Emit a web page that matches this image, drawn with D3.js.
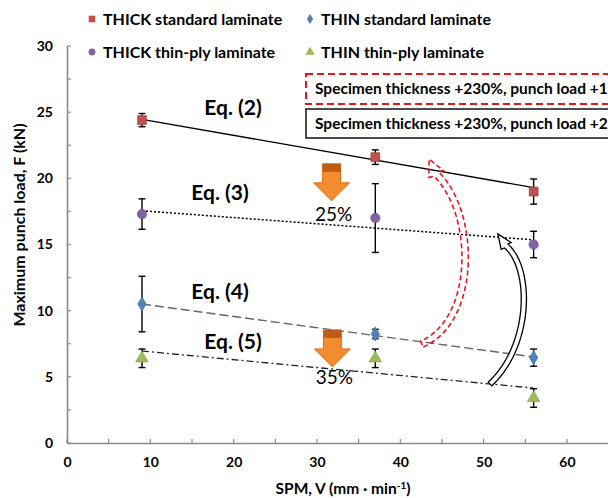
<!DOCTYPE html>
<html>
<head>
<meta charset="utf-8">
<script src="https://cdn.jsdelivr.net/npm/d3@7"></script>
<style>
  body { margin: 0; background: #fff; }
  text { font-family: Lato, "Noto Sans", sans-serif; font-weight: bold; fill: #000; }
</style>
</head>
<body>
<svg id="chart" width="608" height="498"></svg>
<script>
// punch speed (mm/min)
const speeds = [9, 37, 56];

// mean punch loads (kN) and error half-widths
const thickStd = [24.4, 21.6, 19.0];
const thickStdErr = [0.5, 0.55, 0.95];
const thickThin = [17.3, 17.0, 15.0];
const thickThinErr = [1.15, 2.6, 1.0];
const thinStd = [10.5, 8.24, 6.45];
const thinStdErr = [2.1, 0.35, 0.65];
const thinThin = [6.4, 6.4, 3.4];
const thinThinErr = [0.7, 0.7, 0.7];

// fitted lines, value at first and last speed
const trendX = [9, 56];
const eq2 = [24.45, 19.3];
const eq3 = [17.55, 15.35];
const eq4 = [10.5, 6.5];
const eq5 = [6.95, 4.15];

const xTicks = [0, 10, 20, 30, 40, 50, 60];
const yTicks = [0, 5, 10, 15, 20, 25, 30];

const svg = d3.select('#chart');

let x = d3.scaleLinear().domain([0, 70]).range([67, 650.3]);
let y = d3.scaleLinear().domain([0, 30]).range([443, 46]);

// axes
let gx = svg.append('g').attr('transform', `translate(0,${y(0)})`)
  .call(d3.axisBottom(x).tickValues(xTicks).tickSize(0).tickPadding(14));
let gy = svg.append('g').attr('transform', `translate(${x(0)},0)`)
  .call(d3.axisLeft(y).tickValues(yTicks).tickSize(0).tickPadding(14));
[gx, gy].forEach(g => {
  g.select('.domain').attr('stroke', '#8a8a8a').attr('stroke-width', 1.6);
  g.selectAll('text').style('font-size', '14px').style('font-family', 'Lato, sans-serif').style('font-weight', 'bold').attr('fill', '#000');
});

// small inward ticks
svg.append('g').selectAll('line').data(d3.range(0, 71, 5)).join('line')
  .attr('x1', d => x(d)).attr('x2', d => x(d))
  .attr('y1', y(0)).attr('y2', y(0) - 4)
  .attr('stroke', '#8a8a8a').attr('stroke-width', 1.2);
svg.append('g').selectAll('line').data(d3.range(0, 30.1, 2.5)).join('line')
  .attr('x1', x(0)).attr('x2', x(0) + 4)
  .attr('y1', d => y(d)).attr('y2', d => y(d))
  .attr('stroke', '#8a8a8a').attr('stroke-width', 1.2);

// axis titles
svg.append('text').attr('x', 343).attr('y', 494).attr('text-anchor', 'middle')
  .style('font-size', '15.5px')
  .html('SPM, V (mm \u00B7 min<tspan dy="-5" style="font-size:10px">-1</tspan><tspan dy="5">)</tspan>');
svg.append('text').attr('transform', 'translate(25,225) rotate(-90)').attr('text-anchor', 'middle')
  .style('font-size', '16px').text('Maximum punch load, F (kN)');

// trend lines
const trends = [
  { v: eq2, dash: null, color: '#000', w: 1.3 },
  { v: eq3, dash: '2,2', color: '#000', w: 1.5 },
  { v: eq4, dash: '9,4', color: '#666', w: 1.4 },
  { v: eq5, dash: '7,3,2,3', color: '#222', w: 1.3 }
];
let line = d3.line().x((d, i) => x(trendX[i])).y(d => y(d));
trends.forEach(t => {
  svg.append('path').attr('d', line(t.v)).attr('fill', 'none')
    .attr('stroke', t.color).attr('stroke-width', t.w)
    .attr('stroke-dasharray', t.dash);
});

// error bars
const series = [
  { v: thickStd, e: thickStdErr, shape: d3.symbolSquare, size: 80, fill: '#c0504d', stroke: '#9e3330' },
  { v: thickThin, e: thickThinErr, shape: d3.symbolCircle, size: 70, fill: '#8064a2', stroke: '#6a4f8c' },
  { v: thinStd, e: thinStdErr, shape: d3.symbolDiamond, size: 60, fill: '#4f81bd', stroke: '#3c6ca8' },
  { v: thinThin, e: thinThinErr, shape: d3.symbolTriangle, size: 70, fill: '#9bbb59', stroke: '#86a644' }
];
series.forEach(s => {
  let g = svg.append('g').attr('stroke', '#000').attr('stroke-width', 1.4);
  s.v.forEach((v, i) => {
    let cx = x(speeds[i]);
    let y1 = y(v + s.e[i]), y2 = y(v - s.e[i]);
    g.append('line').attr('x1', cx).attr('x2', cx).attr('y1', y1).attr('y2', y2);
    g.append('line').attr('x1', cx - 3.5).attr('x2', cx + 3.5).attr('y1', y1).attr('y2', y1);
    g.append('line').attr('x1', cx - 3.5).attr('x2', cx + 3.5).attr('y1', y2).attr('y2', y2);
  });
});
series.forEach(s => {
  svg.append('g').selectAll('path').data(s.v).join('path')
    .attr('transform', (d, i) => `translate(${x(speeds[i])},${y(d)})`)
    .attr('d', d3.symbol().type(s.shape).size(s.size))
    .attr('fill', s.fill).attr('stroke', s.stroke).attr('stroke-width', 0.6);
});

// legend
const legendItems = [
  { label: 'THICK standard laminate', s: series[0], lx: 92, ly: 19 },
  { label: 'THIN standard laminate', s: series[2], lx: 310, ly: 19 },
  { label: 'THICK thin-ply laminate', s: series[1], lx: 92, ly: 52 },
  { label: 'THIN thin-ply laminate', s: series[3], lx: 310, ly: 52 }
];
legendItems.forEach(l => {
  svg.append('path').attr('transform', `translate(${l.lx},${l.ly})`)
    .attr('d', d3.symbol().type(l.s.shape).size(l.s.size * 0.55))
    .attr('fill', l.s.fill);
  svg.append('text').attr('x', l.lx + 11).attr('y', l.ly).attr('dy', '0.35em')
    .style('font-size', '16px').text(l.label);
});

// equation labels
const eqLabels = [
  { t: 'Eq. (2)', px: 233, py: 115 },
  { t: 'Eq. (3)', px: 220, py: 200 },
  { t: 'Eq. (4)', px: 220, py: 299 },
  { t: 'Eq. (5)', px: 233, py: 349 }
];
eqLabels.forEach(e => {
  svg.append('text').attr('x', e.px).attr('y', e.py).attr('text-anchor', 'middle')
    .style('font-size', '21px').text(e.t);
});

// boxed notes (run off the right edge)
svg.append('rect').attr('x', 306).attr('y', 74).attr('width', 340).attr('height', 30)
  .attr('fill', '#fff').attr('stroke', '#e8141c').attr('stroke-width', 2).attr('stroke-dasharray', '7,4');
svg.append('text').attr('x', 315).attr('y', 94).style('font-size', '15.5px')
  .text('Specimen thickness +230%, punch load +1');
svg.append('rect').attr('x', 306).attr('y', 109).attr('width', 340).attr('height', 29)
  .attr('fill', '#fff').attr('stroke', '#000').attr('stroke-width', 1.4);
svg.append('text').attr('x', 315).attr('y', 129).style('font-size', '15.5px')
  .text('Specimen thickness +230%, punch load +2');

// orange down arrows with percentage
const drops = [
  { sx: 31.75, sy: 18.3, label: '25%', ly: 221 },
  { sx: 31.85, sy: 5.75, label: '35%', ly: 384 }
];
drops.forEach(d => {
  let tx = x(d.sx), ty = y(d.sy);
  let pts = [[tx - 9, ty - 37], [tx + 9, ty - 37], [tx + 9, ty - 18], [tx + 18, ty - 18],
             [tx, ty], [tx - 18, ty - 18], [tx - 9, ty - 18]];
  svg.append('path').attr('d', 'M' + pts.join('L') + 'Z')
    .attr('fill', '#f38b2f').attr('stroke', '#e06d12').attr('stroke-width', 1);
  svg.append('rect').attr('x', tx - 9).attr('y', ty - 37).attr('width', 18).attr('height', 8)
    .attr('fill', '#bd5c17');
  svg.append('text').attr('x', tx + 2).attr('y', d.ly).attr('text-anchor', 'middle')
    .style('font-size', '19px').style('font-weight', 'normal').text(d.label);
});

// curved block arrows
function blockArrow(a) {
  let P = a.pts.map(p => [x(p[0]), y(p[1])]);
  let tip = [x(a.tip[0]), y(a.tip[1])];
  let bez = t => {
    let u = 1 - t;
    return [0, 1].map(k => u * u * u * P[0][k] + 3 * u * u * t * P[1][k] + 3 * u * t * t * P[2][k] + t * t * t * P[3][k]);
  };
  let left = [], right = [];
  let n = 40;
  for (let i = 0; i <= n; i++) {
    let t = i / n;
    let p = bez(t), q = bez(Math.min(1, t + 0.01)), r = bez(Math.max(0, t - 0.01));
    let dx = q[0] - r[0], dy = q[1] - r[1], len = Math.hypot(dx, dy);
    let nx = -dy / len, ny = dx / len;
    left.push([p[0] + nx * a.w, p[1] + ny * a.w]);
    right.push([p[0] - nx * a.w, p[1] - ny * a.w]);
  }
  let end = P[3];
  let hx = tip[0] - end[0], hy = tip[1] - end[1], hl = Math.hypot(hx, hy);
  let nx = -hy / hl, ny = hx / hl;
  let head = [[end[0] + nx * a.hw, end[1] + ny * a.hw], tip, [end[0] - nx * a.hw, end[1] - ny * a.hw]];
  let outline = left.concat(head, right.reverse());
  svg.append('path').attr('d', 'M' + outline.join('L') + 'Z')
    .attr('fill', a.fill).attr('stroke', a.stroke).attr('stroke-width', a.sw)
    .attr('stroke-dasharray', a.dash);
}
blockArrow({ pts: [[42.6, 7.48], [49.3, 9.3], [49.1, 17.46], [44.3, 20.33]], tip: [43.45, 21.46],
  w: 3.2, hw: 8, fill: 'none', stroke: '#e8141c', sw: 1.6, dash: '5,3' });
blockArrow({ pts: [[50.76, 4.46], [55.8, 7.4], [55.8, 13.22], [52.7, 14.89]], tip: [51.7, 15.8],
  w: 2.6, hw: 6, fill: '#fff', stroke: '#000', sw: 1.3, dash: null });
</script>
</body>
</html>
